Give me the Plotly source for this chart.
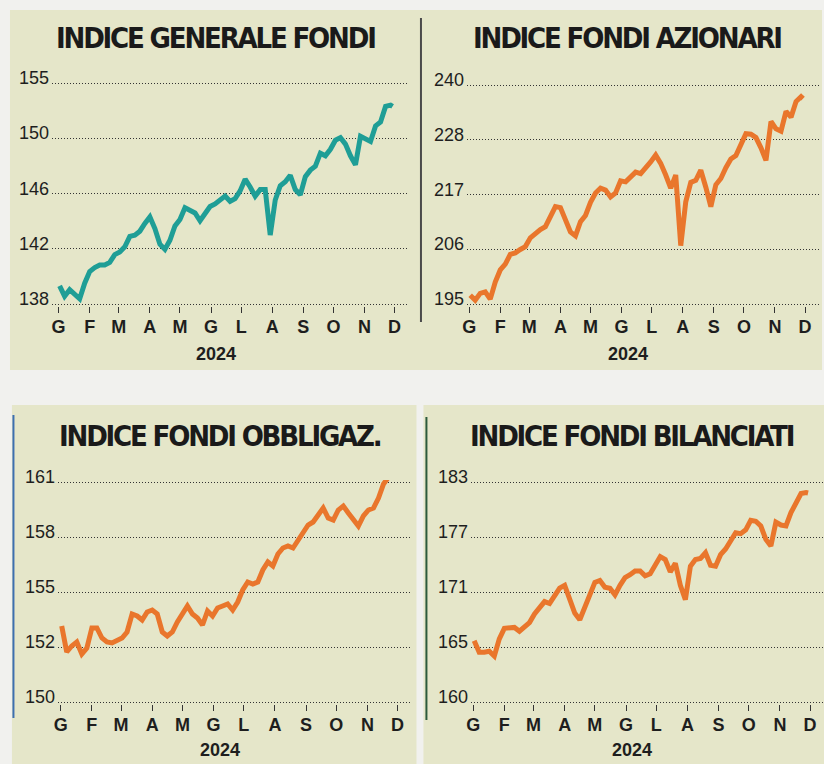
import numpy as np
import plotly.graph_objects as go

# ---------------- data ----------------
DATES = ["2024-01-02", "2024-01-07", "2024-01-12", "2024-01-17", "2024-01-22", "2024-01-27",
         "2024-02-01", "2024-02-06", "2024-02-11", "2024-02-16", "2024-02-21", "2024-02-26",
         "2024-03-02", "2024-03-07", "2024-03-12", "2024-03-17", "2024-03-22", "2024-03-27",
         "2024-04-01", "2024-04-06", "2024-04-11", "2024-04-16", "2024-04-21", "2024-04-26",
         "2024-05-01", "2024-05-06", "2024-05-11", "2024-05-16", "2024-05-21", "2024-05-26",
         "2024-05-31", "2024-06-05", "2024-06-10", "2024-06-15", "2024-06-20", "2024-06-25",
         "2024-06-30", "2024-07-05", "2024-07-10", "2024-07-15", "2024-07-20", "2024-07-25",
         "2024-07-30", "2024-08-04", "2024-08-09", "2024-08-14", "2024-08-19", "2024-08-24",
         "2024-08-29", "2024-09-03", "2024-09-08", "2024-09-13", "2024-09-18", "2024-09-23",
         "2024-09-28", "2024-10-03", "2024-10-08", "2024-10-13", "2024-10-18", "2024-10-23",
         "2024-10-28", "2024-11-02", "2024-11-07", "2024-11-12", "2024-11-17", "2024-11-22",
         "2024-11-27", "2024-11-29"]

GENERALE = [139.4, 138.6, 139.1, 138.8, 138.4, 139.6, 140.5, 140.8, 141.0, 141.0,
            141.2, 141.8, 142.0, 142.4, 143.2, 143.3, 143.6, 144.2, 144.7, 143.8,
            142.6, 142.2, 142.9, 144.0, 144.5, 145.4, 145.2, 145.0, 144.4, 145.0,
            145.5, 145.7, 146.0, 146.3, 145.9, 146.1, 146.7, 147.6, 147.0, 146.3,
            146.8, 146.8, 143.3, 146.0, 147.1, 147.4, 147.9, 146.8, 146.4, 147.8,
            148.3, 148.6, 149.6, 149.4, 149.9, 150.6, 150.8, 150.3, 149.4, 148.7,
            150.9, 150.7, 150.5, 151.7, 152.0, 153.2, 153.3, 153.2]

AZIONARI = [196.8, 195.8, 197.2, 197.5, 196.0, 199.5, 202.0, 203.2, 205.2, 205.5,
            206.2, 206.8, 208.6, 209.6, 210.3, 210.9, 213.0, 215.0, 214.8, 212.3,
            209.8, 209.0, 211.9, 213.2, 215.9, 217.8, 218.8, 218.4, 217.0, 217.8,
            220.3, 220.1, 221.1, 222.1, 221.8, 222.9, 224.2, 225.6, 223.9, 221.5,
            218.8, 221.5, 207.0, 216.0, 220.0, 220.4, 222.5, 219.0, 215.0, 219.5,
            220.8, 223.0, 224.8, 225.5, 228.0, 230.0, 229.9, 229.2, 227.1, 224.5,
            232.5, 231.0, 230.5, 234.6, 233.4, 236.6, 237.6, 237.2]

OBBLIGAZ = [153.8, 152.5, 152.8, 153.0, 152.4, 152.7, 153.7, 153.7, 153.2, 153.0,
            152.95, 153.05, 153.2, 153.5, 154.4, 154.3, 154.1, 154.5, 154.6, 154.4,
            153.5, 153.3, 153.5, 154.0, 154.45, 154.8, 154.4, 154.2, 153.85, 154.55,
            154.3, 154.7, 154.8, 154.9, 154.6, 155.0, 155.6, 156.0, 155.9, 156.0,
            156.6, 157.0, 156.8, 157.4, 157.7, 157.8, 157.7, 158.1, 158.55, 158.85,
            159.0, 159.4, 159.7, 159.2, 159.1, 159.6, 159.8, 159.45, 159.1, 158.8,
            159.3, 159.6, 159.7, 160.2, 160.9, 161.25, 161.45, 161.5]

BILANCIATI = [166.4, 165.2, 165.2, 165.3, 164.8, 166.6, 167.7, 167.7, 167.8, 167.4,
              167.9, 168.3, 169.2, 169.8, 170.5, 170.3, 171.1, 171.9, 172.2, 170.8,
              169.3, 168.6, 169.9, 170.9, 172.5, 172.7, 172.0, 171.9, 171.2, 172.2,
              173.0, 173.3, 173.7, 173.7, 173.2, 173.4, 174.3, 175.2, 174.9, 173.6,
              174.5, 172.2, 170.7, 174.2, 174.9, 175.0, 175.6, 174.3, 174.2, 175.4,
              176.0, 176.8, 177.7, 177.6, 178.0, 179.0, 178.9, 178.4, 177.0, 176.3,
              178.8, 178.5, 178.4, 179.8, 180.9, 181.8, 181.9, 181.85]

TITLES = ["INDICE GENERALE FONDI", "INDICE FONDI AZIONARI",
          "INDICE FONDI OBBLIGAZ.", "INDICE FONDI BILANCIATI"]

Y_RANGES = [(138, 155), (195, 240), (150, 161), (160, 183)]
Y_LABELS = [["138", "142", "146", "150", "155"],
            ["195", "206", "217", "228", "240"],
            ["150", "152", "155", "158", "161"],
            ["160", "165", "171", "177", "183"]]

MONTH_TICKS = ["2024-01-01", "2024-02-01", "2024-03-01", "2024-04-01", "2024-05-01", "2024-06-01",
               "2024-07-01", "2024-08-01", "2024-09-01", "2024-10-01", "2024-11-01", "2024-12-01"]
MONTH_LABELS = ["G", "F", "M", "A", "M", "G", "L", "A", "S", "O", "N", "D"]
YEAR_LABEL = "2024"

SERIES = [GENERALE, AZIONARI, OBBLIGAZ, BILANCIATI]

# ---------------- layout geometry (pixels) ----------------
W, H = 824, 764
TEAL = "#1f9e96"
ORANGE = "#e9762c"
LINE_COLORS = [TEAL, ORANGE, ORANGE, ORANGE]

# plot area boxes: (left, right, top, bottom) in px
BOXES = [(47, 405, 83, 304), (465, 819, 85, 304), (53, 409, 482, 702), (469, 824, 482, 702)]
X_RANGES = [("2023-12-25 03:00", "2024-12-13 22:00"), ("2023-12-30", "2024-12-14 22:00"),
            ("2023-12-29", "2024-12-14 20:00"), ("2023-12-30", "2024-12-14 20:00")]
TITLE_POS = [(212, 38), (626, 38), (216, 436), (631, 436)]
YEAR_POS = [(212, 354), (627, 354), (216, 750), (631, 750)]
PAD = 2  # px of slack above/below the outer gridlines


def px(x):
    return x / W


def py(y):
    return 1 - y / H


fig = go.Figure()
layout = dict(
    width=W, height=H, margin=dict(l=0, r=0, t=0, b=0),
    paper_bgcolor="#f1f1ee", plot_bgcolor="rgba(0,0,0,0)", showlegend=False,
)

shapes = []
annotations = []
BEIGE = "#e5e6c9"
# panel backgrounds
shapes.append(dict(type="rect", xref="paper", yref="paper", x0=px(5), x1=px(822), y0=py(10), y1=py(370),
                   fillcolor=BEIGE, line_width=0, layer="below"))
shapes.append(dict(type="rect", xref="paper", yref="paper", x0=px(7), x1=px(414), y0=py(405), y1=py(764),
                   fillcolor=BEIGE, line_width=0, layer="below"))
shapes.append(dict(type="rect", xref="paper", yref="paper", x0=px(421), x1=px(824), y0=py(405), y1=py(764),
                   fillcolor=BEIGE, line_width=0, layer="below"))
# vertical rules
shapes.append(dict(type="line", xref="paper", yref="paper", x0=px(418.5), x1=px(418.5), y0=py(18), y1=py(322),
                   line=dict(color="#4a4a4a", width=2)))
shapes.append(dict(type="line", xref="paper", yref="paper", x0=px(8.5), x1=px(8.5), y0=py(415), y1=py(718),
                   line=dict(color="#3d6fb0", width=2)))
shapes.append(dict(type="line", xref="paper", yref="paper", x0=px(424), x1=px(424), y0=py(417), y1=py(720),
                   line=dict(color="#2c5a3c", width=2)))

TITLE_FONT = "DejaVu Sans Condensed, DejaVu Sans, Arial Narrow, sans-serif"
TICK_FONT = "Liberation Sans, Arial, Helvetica, sans-serif"

for i in range(4):
    sfx = "" if i == 0 else str(i + 1)
    l, r, t, b = BOXES[i]
    ymin, ymax = Y_RANGES[i]
    u = (ymax - ymin) / (b - t)
    tickvals = list(np.linspace(ymin, ymax, 5))
    fig.add_trace(go.Scatter(
        x=DATES, y=SERIES[i], mode="lines", xaxis="x" + sfx, yaxis="y" + sfx,
        line=dict(color=LINE_COLORS[i], width=5),
        hoverinfo="x+y"))
    layout["xaxis" + sfx] = dict(
        domain=[px(l), px(r)], anchor="y" + sfx, type="date", range=list(X_RANGES[i]),
        tickvals=MONTH_TICKS, ticktext=MONTH_LABELS, showgrid=False, zeroline=False, showline=False,
        ticks="outside", ticklen=6, tickwidth=1, tickcolor="#333333",
        ticklabelstandoff=-2,
        tickfont=dict(family=TICK_FONT, size=18, color="#1e1e1e", weight="bold"),
        fixedrange=True)
    layout["yaxis" + sfx] = dict(
        domain=[py(b + PAD), py(t - PAD)], anchor="x" + sfx,
        range=[ymin - PAD * u, ymax + PAD * u],
        tickvals=tickvals, showticklabels=False,
        showgrid=True, gridcolor="#333333", gridwidth=1.2, griddash="1px,2px",
        zeroline=False, showline=False, ticks="",
        fixedrange=True)
    for v, lab in zip(tickvals, Y_LABELS[i]):
        annotations.append(dict(
            text=lab, xref="x" + sfx + " domain", yref="y" + sfx, x=0, y=v,
            xanchor="right", yanchor="middle", xshift=-1, yshift=5, showarrow=False,
            font=dict(family=TICK_FONT, size=18, color="#1e1e1e")))
    annotations.append(dict(
        text='<span style="letter-spacing:-2.2px">' + TITLES[i] + '</span>',
        xref="paper", yref="paper", x=px(TITLE_POS[i][0]), y=py(TITLE_POS[i][1]),
        xanchor="center", yanchor="middle", showarrow=False,
        font=dict(family=TITLE_FONT, size=29, color="#1a1a1a", weight="bold")))
    annotations.append(dict(
        text=YEAR_LABEL, xref="paper", yref="paper", x=px(YEAR_POS[i][0]), y=py(YEAR_POS[i][1]),
        xanchor="center", yanchor="middle", showarrow=False,
        font=dict(family=TICK_FONT, size=18, color="#1e1e1e", weight="bold")))

layout["shapes"] = shapes
layout["annotations"] = annotations
fig.update_layout(**layout)
fig.write_html("out.html", config={"displayModeBar": False},
               post_script="document.body.style.margin='0';")
